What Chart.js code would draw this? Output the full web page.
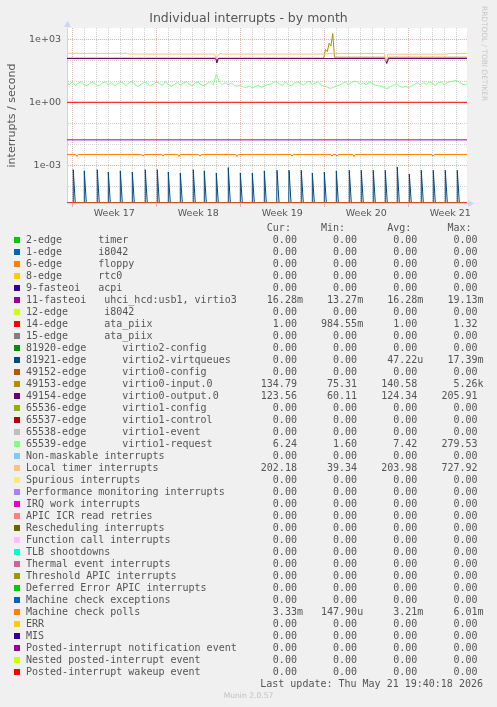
<!DOCTYPE html>
<html>
<head>
<meta charset="utf-8">
<title>Individual interrupts - by month</title>
<script src="https://cdn.jsdelivr.net/npm/chart.js@4.4.1/dist/chart.umd.min.js"></script>
<style>
  html, body { margin: 0; padding: 0; background: #f0f0f0; }
  body { position: relative; width: 497px; height: 707px; overflow: hidden; }
  #chartBox { position: absolute; left: 0; top: 0; width: 497px; height: 225px; }
  #brand { position: absolute; left: 480px; top: 6px; writing-mode: vertical-rl; font: 7.4px/8px "DejaVu Sans", sans-serif; color: #c6c6c6; white-space: nowrap; }
  #legend { position: absolute; left: 0; top: 222px; width: 497px; font: 10px/12px "DejaVu Sans Mono", monospace; color: #555; }
  .row { position: relative; height: 12px; padding-left: 26px; white-space: pre; }
  .swatch { position: absolute; left: 14px; top: 3px; width: 6px; height: 6px; }
  #updated { position: absolute; right: 14px; top: 678px; font: 10px/12px "DejaVu Sans Mono", monospace; color: #555; white-space: pre; }
  #munin { position: absolute; left: 0; top: 691px; width: 497px; text-align: center; font: 7.6px/10px "DejaVu Sans", sans-serif; color: #c0c0c0; }
</style>
</head>
<body>
<div id="chartBox"><canvas id="chart" width="497" height="225"></canvas></div>
<div id="brand">RRDTOOL / TOBI OETIKER</div>
<div id="legend"></div>
<div id="updated">Last update: Thu May 21 19:40:18 2026</div>
<div id="munin">Munin 2.0.57</div>
<script>
// x axis, in days counted from the start of week 17
const xMinDay = -0.44;
const xMaxDay = 32.89;
const weekMids = [3.5, 10.5, 17.5, 24.5, 31.5];
const weekLabels = ['Week 17', 'Week 18', 'Week 19', 'Week 20', 'Week 21'];

// y axis (logarithmic)
const yMin = 1.6e-5;
const yMax = 3450;
const yGridTicks = [1e-4, 1e-3, 1e-2, 1e-1, 1, 10, 100, 1e3];
const yLabelTicks = [1e-3, 1, 1e3];
const yTickLabels = ['1e-03', '1e+00', '1e+03'];

const seriesNames = [
  '2-edge      timer', '1-edge      i8042', '6-edge      floppy', '8-edge      rtc0',
  '9-fasteoi   acpi', '11-fasteoi   uhci_hcd:usb1, virtio3', '12-edge      i8042',
  '14-edge      ata_piix', '15-edge      ata_piix', '81920-edge      virtio2-config',
  '81921-edge      virtio2-virtqueues', '49152-edge      virtio0-config',
  '49153-edge      virtio0-input.0', '49154-edge      virtio0-output.0',
  '65536-edge      virtio1-config', '65537-edge      virtio1-control',
  '65538-edge      virtio1-event', '65539-edge      virtio1-request',
  'Non-maskable interrupts', 'Local timer interrupts', 'Spurious interrupts',
  'Performance monitoring interrupts', 'IRQ work interrupts', 'APIC ICR read retries',
  'Rescheduling interrupts', 'Function call interrupts', 'TLB shootdowns',
  'Thermal event interrupts', 'Threshold APIC interrupts', 'Deferred Error APIC interrupts',
  'Machine check exceptions', 'Machine check polls', 'ERR', 'MIS',
  'Posted-interrupt notification event', 'Nested posted-interrupt event',
  'Posted-interrupt wakeup event'
];
const seriesColors = [
  '#00CC00', '#0066B3', '#FF8000', '#FFCC00', '#330099', '#990099', '#CCFF00', '#FF0000',
  '#808080', '#008F00', '#00487D', '#B35A00', '#B38F00', '#6B006B', '#8FB300', '#B30000',
  '#BEBEBE', '#80FF80', '#80C9FF', '#FFC080', '#FFE680', '#AA80FF', '#EE00CC', '#FF8080',
  '#666600', '#FFBFFF', '#00FFCC', '#CC6699', '#999900', '#00CC00', '#0066B3', '#FF8000',
  '#FFCC00', '#330099', '#990099', '#CCFF00', '#FF0000'
];
const curVals = ['0.00', '0.00', '0.00', '0.00', '0.00', '16.28m', '0.00', '1.00', '0.00', '0.00',
  '0.00', '0.00', '134.79', '123.56', '0.00', '0.00', '0.00', '6.24', '0.00', '202.18', '0.00',
  '0.00', '0.00', '0.00', '0.00', '0.00', '0.00', '0.00', '0.00', '0.00', '0.00', '3.33m',
  '0.00', '0.00', '0.00', '0.00', '0.00'];
const minVals = ['0.00', '0.00', '0.00', '0.00', '0.00', '13.27m', '0.00', '984.55m', '0.00', '0.00',
  '0.00', '0.00', '75.31', '60.11', '0.00', '0.00', '0.00', '1.60', '0.00', '39.34', '0.00',
  '0.00', '0.00', '0.00', '0.00', '0.00', '0.00', '0.00', '0.00', '0.00', '0.00', '147.90u',
  '0.00', '0.00', '0.00', '0.00', '0.00'];
const avgVals = ['0.00', '0.00', '0.00', '0.00', '0.00', '16.28m', '0.00', '1.00', '0.00', '0.00',
  '47.22u', '0.00', '140.58', '124.34', '0.00', '0.00', '0.00', '7.42', '0.00', '203.98', '0.00',
  '0.00', '0.00', '0.00', '0.00', '0.00', '0.00', '0.00', '0.00', '0.00', '0.00', '3.21m',
  '0.00', '0.00', '0.00', '0.00', '0.00'];
const maxVals = ['0.00', '0.00', '0.00', '0.00', '0.00', '19.13m', '0.00', '1.32', '0.00', '0.00',
  '17.39m', '0.00', '5.26k', '205.91', '0.00', '0.00', '0.00', '279.53', '0.00', '727.92', '0.00',
  '0.00', '0.00', '0.00', '0.00', '0.00', '0.00', '0.00', '0.00', '0.00', '0.00', '6.01m',
  '0.00', '0.00', '0.00', '0.00', '0.00'];

// flat lines: just the two ends
const flatDays = [-1, 34];
const zeroVals = [0, 0];
const fasteoi11Vals = [0.01628, 0.01628];
const ata14Vals = [1.0, 1.0];

// 81921-edge: one short burst a day
const vqSpikeDays = [0.08, 1.0, 2.08, 3.0, 4.0, 5.0, 6.08, 7.08, 8.0, 9.0, 10.08, 11.0, 12.0, 13.0,
  14.0, 15.0, 16.0, 17.06, 18.06, 19.08, 20.0, 21.0, 22.0, 23.08, 24.08, 25.08, 26.08, 27.08,
  28.08, 29.08, 30.08, 31.08, 32.08];
const vqSpikeVals = [6.2e-4, 5.4e-4, 6.2e-4, 4.8e-4, 5.4e-4, 4.8e-4, 6.2e-4, 6.2e-4, 4.8e-4, 4.3e-4,
  6.2e-4, 5.4e-4, 4.3e-4, 7.8e-4, 4.3e-4, 4.3e-4, 5.4e-4, 5.8e-4, 5.8e-4, 5.8e-4, 4.3e-4, 4.8e-4,
  5.4e-4, 5.8e-4, 5.8e-4, 5.8e-4, 5.8e-4, 8.3e-4, 3.9e-4, 5.8e-4, 5.8e-4, 5.8e-4, 5.8e-4];

// 49153-edge virtio0-input.0
const inputDays = [-1, 11.95, 12.05, 12.2, 20.95, 21.1, 21.25, 21.4, 21.55, 21.7, 21.85, 26.05, 26.2, 26.35, 34];
const inputVals = [127, 127, 95, 127, 127, 330, 260, 650, 480, 1900, 140, 140, 85, 140, 140];

// 49154-edge virtio0-output.0
const outputDays = [-1, 11.95, 12.05, 12.15, 26.05, 26.2, 26.35, 34];
const outputVals = [121, 121, 74, 121, 121, 70, 121, 121];

// 65539-edge virtio1-request, one value every 6 hours from day -0.5
const requestStart = -0.5;
const requestStep = 0.25;
const requestVals = [
  8.8, 6.9, 9.4, 6.3, 8.1, 9.8, 6.6, 6.0, 8.5, 9.2,
  6.8, 5.9, 8.3, 9.4, 6.4, 8.9, 6.1, 7.5, 9.6, 8.0,
  6.3, 8.7, 10.1, 6.5, 5.7, 7.4, 9.0, 8.2, 6.0, 7.3,
  9.4, 8.1, 6.2, 9.7, 7.0, 5.8, 6.8, 8.9, 6.4, 8.4,
  9.5, 7.2, 6.1, 8.6, 9.3, 6.6, 6.0, 8.0, 9.1, 6.9,
  22.0, 9.4, 6.8, 8.7, 6.4, 8.9, 6.3, 5.9, 6.4, 5.4,
  5.1, 6.0, 4.9, 5.6, 6.3, 5.2, 5.9, 6.9, 7.3, 8.8,
  9.8, 7.6, 6.4, 9.1, 7.0, 6.0, 8.1, 9.4, 8.3, 6.6,
  8.8, 10.2, 6.7, 8.3, 9.6, 6.4, 5.8, 5.3, 4.5, 5.2,
  6.0, 6.6, 7.9, 9.3, 6.8, 8.9, 10.0, 9.4, 7.1, 8.6,
  6.8, 9.2, 8.0, 6.5, 6.1, 5.8, 5.1, 4.4, 5.6, 6.4,
  7.6, 5.7, 5.2, 5.8, 5.0, 6.0, 7.0, 8.6, 6.6, 8.9,
  7.0, 9.3, 8.0, 6.2, 8.7, 9.3, 6.8, 8.8, 9.6, 10.3,
  11.2, 8.9, 7.4, 6.6, 8.2
];

// Local timer interrupts
const timerDays = [-1, 4.6, 4.75, 11.85, 12.0, 12.1, 12.25, 12.4, 12.55, 21.1, 21.25, 26.0, 26.15, 26.3, 31.2, 31.35, 34];
const timerVals = [215, 215, 198, 198, 120, 160, 198, 215, 198, 198, 212, 212, 90, 196, 196, 212, 212];

// Machine check polls: steady level with short dips
const mcpLevel = 0.00325;
const mcpDipDays = [0.39, 5.89, 7.56, 8.89, 10.64, 13.73, 18.31, 21.64, 22.06, 23.48, 30.06];
const mcpDipVals = [0.0026, 0.0027, 0.0027, 0.0026, 0.0027, 0.0026, 0.0027, 0.0027, 0.0027, 0.0026, 0.0027];

// ---- build point lists ----
const vqDays = [flatDays[0]], vqVals = [0];
vqSpikeDays.forEach((d, i) => {
  vqDays.push(d - 0.02, d, d + 0.17);
  vqVals.push(0, vqSpikeVals[i], 0);
});
vqDays.push(flatDays[1]); vqVals.push(0);

const mcpDays = [flatDays[0]], mcpVals = [mcpLevel];
mcpDipDays.forEach((d, i) => {
  mcpDays.push(d - 0.1, d, d + 0.1);
  mcpVals.push(mcpLevel, mcpDipVals[i], mcpLevel);
});
mcpDays.push(flatDays[1]); mcpVals.push(mcpLevel);

const requestDays = requestVals.map((_, i) => requestStart + i * requestStep);

const plotted = {
  5: [flatDays, fasteoi11Vals],
  7: [flatDays, ata14Vals],
  10: [vqDays, vqVals],
  12: [inputDays, inputVals],
  13: [outputDays, outputVals],
  17: [requestDays, requestVals],
  19: [timerDays, timerVals],
  31: [mcpDays, mcpVals]
};

// zero has no place on a log axis, so it sits on the floor like rrdtool draws it
function toPoints(days, vals) {
  return days.map((d, i) => ({ x: d, y: vals[i] > 0 ? vals[i] : yMin }));
}

const datasets = seriesNames.map((name, i) => {
  const [days, vals] = plotted[i] || [flatDays, zeroVals];
  return {
    label: name,
    data: toPoints(days, vals),
    borderColor: seriesColors[i],
    backgroundColor: seriesColors[i],
    borderWidth: 1,
    pointRadius: 0,
    tension: 0,
    order: -i   // later series on top
  };
});

const majorGrid = 'rgba(232, 130, 130, 0.6)';
const minorGrid = 'rgba(185, 185, 185, 0.65)';
const axisColor = '#cbd3f7';

const plotFrame = {
  id: 'plotFrame',
  beforeDraw(chart) {
    const { ctx, chartArea: a } = chart;
    ctx.save();
    ctx.fillStyle = '#ffffff';
    ctx.fillRect(a.left, a.top, a.right - a.left, a.bottom - a.top);
    ctx.restore();
  },
  afterDraw(chart) {
    const { ctx, chartArea: a } = chart;
    ctx.save();
    ctx.fillStyle = axisColor;
    ctx.beginPath();
    ctx.moveTo(a.left - 3, a.top - 1);
    ctx.lineTo(a.left + 4, a.top - 1);
    ctx.lineTo(a.left + 0.5, a.top - 7);
    ctx.fill();
    ctx.beginPath();
    ctx.moveTo(a.right + 1, a.bottom - 3);
    ctx.lineTo(a.right + 1, a.bottom + 4);
    ctx.lineTo(a.right + 7, a.bottom + 0.5);
    ctx.fill();
    ctx.restore();
  }
};

new Chart(document.getElementById('chart'), {
  type: 'line',
  data: { datasets: datasets },
  plugins: [plotFrame],
  options: {
    responsive: false,
    animation: false,
    devicePixelRatio: 1,
    events: [],
    layout: { padding: 0 },
    plugins: {
      legend: { display: false },
      tooltip: { enabled: false },
      title: {
        display: true,
        text: 'Individual interrupts - by month',
        color: '#555',
        font: { family: 'DejaVu Sans', size: 12.5, weight: 'normal' },
        padding: { top: 11, bottom: 2 }
      }
    },
    scales: {
      x: {
        type: 'linear',
        min: xMinDay,
        max: xMaxDay,
        afterBuildTicks: scale => {
          const vals = [];
          for (let d = 0; d <= 32; d++) vals.push(d);
          scale.ticks = vals.concat(weekMids).sort((a, b) => a - b).map(v => ({ value: v }));
        },
        afterFit: scale => { scale.height = 22; },
        ticks: {
          autoSkip: false,
          maxRotation: 0,
          minRotation: 0,
          padding: 1,
          color: '#555',
          font: { family: 'DejaVu Sans', size: 9.5 },
          callback: v => {
            const k = weekMids.indexOf(v);
            return k >= 0 ? weekLabels[k] : '';
          }
        },
        grid: {
          drawTicks: true,
          tickLength: 4,
          color: ctx => {
            const v = ctx.tick ? ctx.tick.value : 0;
            if (v % 1 !== 0) return 'rgba(0,0,0,0)';
            return v % 7 === 0 ? majorGrid : minorGrid;
          },
          tickColor: ctx => {
            const v = ctx.tick ? ctx.tick.value : 0;
            return (v % 1 === 0 && v % 7 === 0) ? majorGrid : 'rgba(0,0,0,0)';
          }
        },
        border: { display: true, color: axisColor, dash: [1, 1] }
      },
      y: {
        type: 'logarithmic',
        min: yMin,
        max: yMax,
        afterBuildTicks: scale => {
          scale.ticks = yGridTicks.map(v => ({ value: v }));
        },
        afterFit: scale => { scale.width = 67; },
        title: {
          display: true,
          text: 'interrupts / second',
          color: '#555',
          font: { family: 'DejaVu Sans', size: 11 },
          padding: { top: 6, bottom: 0 }
        },
        ticks: {
          autoSkip: false,
          padding: 6,
          color: '#555',
          font: { family: 'DejaVu Sans', size: 9.5 },
          callback: v => {
            const k = yLabelTicks.indexOf(v);
            return k >= 0 ? yTickLabels[k] : '';
          }
        },
        grid: {
          drawTicks: false,
          color: ctx => {
            const v = ctx.tick ? ctx.tick.value : 0;
            return yLabelTicks.includes(v) ? majorGrid : minorGrid;
          }
        },
        border: { display: true, color: axisColor, dash: [1, 1] }
      },
      // empty right-hand strip so the plot ends where the rrdtool canvas does
      gutter: {
        type: 'linear',
        position: 'right',
        afterFit: scale => { scale.width = 30; },
        ticks: { display: false },
        grid: { display: false, drawTicks: false },
        border: { display: false }
      }
    }
  }
});

// ---- legend table under the chart ----
function statField(s) {
  const last = s.slice(-1);
  const unit = /[a-z]/i.test(last);
  return (unit ? s.slice(0, -1) : s).padStart(6) + (unit ? last : ' ');
}

const legendEl = document.getElementById('legend');
let rows = '<div class="row">' + ' '.repeat(40) + 'Cur:' + ' '.repeat(5) + 'Min:' +
  ' '.repeat(7) + 'Avg:' + ' '.repeat(6) + 'Max:</div>';
seriesNames.forEach((name, i) => {
  const text = name.padEnd(39) + statField(curVals[i]) + '   ' + statField(minVals[i]) + '   ' +
    statField(avgVals[i]) + '   ' + statField(maxVals[i]);
  rows += '<div class="row"><span class="swatch" style="background:' + seriesColors[i] + '"></span>' +
    text + '</div>';
});
legendEl.innerHTML = rows;
</script>
</body>
</html>
